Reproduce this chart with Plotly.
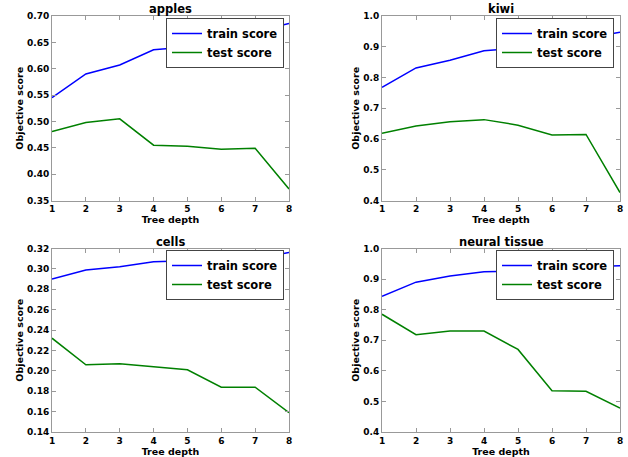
import plotly.graph_objects as go

depth = [1, 2, 3, 4, 5, 6, 7, 8]

apples_train = [0.545, 0.590, 0.607, 0.636, 0.641, 0.655, 0.670, 0.686]
apples_test = [0.481, 0.498, 0.505, 0.455, 0.453, 0.447, 0.449, 0.372]
kiwi_train = [0.768, 0.831, 0.856, 0.887, 0.895, 0.910, 0.928, 0.947]
kiwi_test = [0.619, 0.642, 0.656, 0.663, 0.645, 0.613, 0.615, 0.426]
cells_train = [0.290, 0.299, 0.302, 0.307, 0.308, 0.309, 0.310, 0.316]
cells_test = [0.232, 0.206, 0.207, 0.204, 0.201, 0.184, 0.184, 0.159]
neural_train = [0.844, 0.890, 0.910, 0.924, 0.926, 0.933, 0.940, 0.944]
neural_test = [0.785, 0.718, 0.730, 0.730, 0.670, 0.535, 0.533, 0.478]

titles = ["apples", "kiwi", "cells", "neural tissue"]
series = [(apples_train, apples_test), (kiwi_train, kiwi_test),
          (cells_train, cells_test), (neural_train, neural_test)]
y_ranges = [(0.35, 0.70), (0.4, 1.0), (0.14, 0.32), (0.4, 1.0)]
y_dticks = [0.05, 0.1, 0.02, 0.1]
y_formats = [".2f", ".1f", ".2f", ".1f"]

W, H = 628, 457
# pixel boxes (left, right, top, bottom)
boxes = [(52, 289, 16, 200.5), (382, 620, 16, 200.5),
         (52, 289, 248.5, 432), (382, 620, 248.5, 432)]
legend_pos = [(284, 18), (614, 18), (284, 250), (614, 250)]

FONT = "DejaVu Sans"
fig = go.Figure()
annotations = []
for i, (title, (tr, te)) in enumerate(zip(titles, series)):
    n = "" if i == 0 else str(i + 1)
    leg = "legend" + n
    fig.add_trace(go.Scatter(x=depth, y=tr, mode="lines", name="train score",
                             line=dict(color="#0000ff", width=1.5),
                             xaxis="x" + n, yaxis="y" + n, legend=leg))
    fig.add_trace(go.Scatter(x=depth, y=te, mode="lines", name="test score",
                             line=dict(color="#008000", width=1.5),
                             xaxis="x" + n, yaxis="y" + n, legend=leg))
    l, r, t, b = boxes[i]
    xd = [l / W, r / W]
    yd = [1 - b / H, 1 - t / H]
    axcommon = dict(showline=True, linecolor="#999999", linewidth=1, mirror="allticks",
                    ticks="inside", ticklen=4, tickcolor="#999999", showgrid=False,
                    zeroline=False, automargin=False,
                    tickfont=dict(family=FONT, size=9, color="black", weight="bold"))
    fig.layout["xaxis" + n] = dict(domain=xd, anchor="y" + n, range=[1, 8], dtick=1, tick0=1,
                                   title=dict(text="Tree depth", standoff=0,
                                              font=dict(family=FONT, size=9.5, color="black", weight="bold")),
                                   **axcommon)
    fig.layout["yaxis" + n] = dict(domain=yd, anchor="x" + n, range=list(y_ranges[i]),
                                   dtick=y_dticks[i], tick0=0, tickformat=y_formats[i],
                                   title=dict(text="Objective score", standoff=1,
                                              font=dict(family=FONT, size=9.5, color="black", weight="bold")),
                                   **axcommon)
    lx, ly = legend_pos[i]
    fig.layout[leg] = dict(x=lx / W, y=1 - ly / H, xanchor="right", yanchor="top",
                           bgcolor="white", bordercolor="#444444", borderwidth=1,
                           font=dict(family=FONT, size=11.5, color="black", weight="bold"),
                           tracegroupgap=0)
    annotations.append(dict(text=title, x=(xd[0] + xd[1]) / 2, y=yd[1], xref="paper", yref="paper",
                            xanchor="center", yanchor="bottom", yshift=-2, showarrow=False,
                            font=dict(family=FONT, size=11.5, color="black", weight="bold")))

fig.update_layout(width=W, height=H, margin=dict(l=0, r=0, t=0, b=0, autoexpand=False),
                  paper_bgcolor="white", plot_bgcolor="white", annotations=annotations,
                  showlegend=True)
fig.write_html("out.html", config={"displayModeBar": False},
               post_script="document.body.style.margin='0';document.body.style.overflow='hidden';")
